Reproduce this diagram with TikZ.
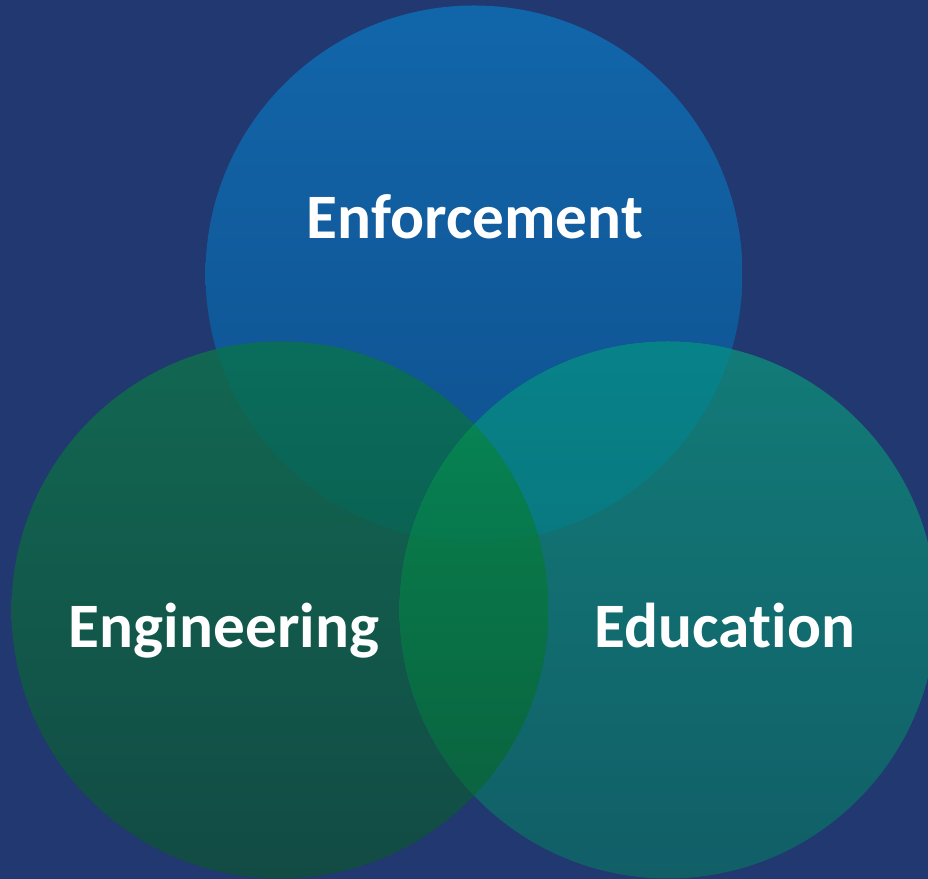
\documentclass[tikz,border=0pt]{standalone}
\usepackage{fontspec}
\setmainfont{Carlito}[Ligatures=NoCommon]
\definecolor{bg}{HTML}{213870}
\definecolor{tTop}{HTML}{1166AA}
\definecolor{tBot}{HTML}{10508E}
\definecolor{lTop}{HTML}{126752}
\definecolor{lBot}{HTML}{124B44}
\definecolor{rTop}{HTML}{127B78}
\definecolor{rBot}{HTML}{115E67}
\definecolor{tlTop}{HTML}{0A6D5C}
\definecolor{tlBot}{HTML}{0B5043}
\definecolor{trTop}{HTML}{088289}
\definecolor{trBot}{HTML}{0A6971}
\definecolor{lrTop}{HTML}{08864F}
\definecolor{lrBot}{HTML}{0A5E3D}
\definecolor{aTop}{HTML}{078A55}
\definecolor{aBot}{HTML}{075A40}
\tikzset{
  lbl/.style={text=white, font=\fontsize{45}{50}\selectfont\bfseries, anchor=base, inner sep=0pt}
}
\begin{document}
\begin{tikzpicture}[x=0.025cm,y=0.025cm]
\fill[bg] (0,0) rectangle (928,879);
\useasboundingbox (0,0) rectangle (928,879);
\coordinate (cT) at (474,605);
\coordinate (cL) at (280,269);
\coordinate (cR) at (668,269);
\def\rr{268.5}
% single circles
\shade[top color=tTop, bottom color=tBot] (cT) circle (\rr);
\shade[top color=lTop, bottom color=lBot] (cL) circle (\rr);
\shade[top color=rTop, bottom color=rBot] (cR) circle (\rr);
% top & left
\begin{scope}
  \clip (cT) circle (\rr);
  \shade[top color=tlTop, bottom color=tlBot] (cL) circle (\rr);
\end{scope}
% top & right
\begin{scope}
  \clip (cT) circle (\rr);
  \shade[top color=trTop, bottom color=trBot] (cR) circle (\rr);
\end{scope}
% left & right
\begin{scope}
  \clip (cL) circle (\rr);
  \shade[top color=lrTop, bottom color=lrBot] (cR) circle (\rr);
\end{scope}
% all three
\begin{scope}
  \clip (cL) circle (\rr);
  \clip (cT) circle (\rr);
  \shade[top color=aTop, bottom color=aBot] (cR) circle (\rr);
\end{scope}
\node[lbl] (enf) at (475,640.5) {Enforcement};
\node[lbl] (eng) at (224,231.5) {Engineering};
\node[lbl] (edu) at (725,231.5) {Education};
\end{tikzpicture}
\end{document}
